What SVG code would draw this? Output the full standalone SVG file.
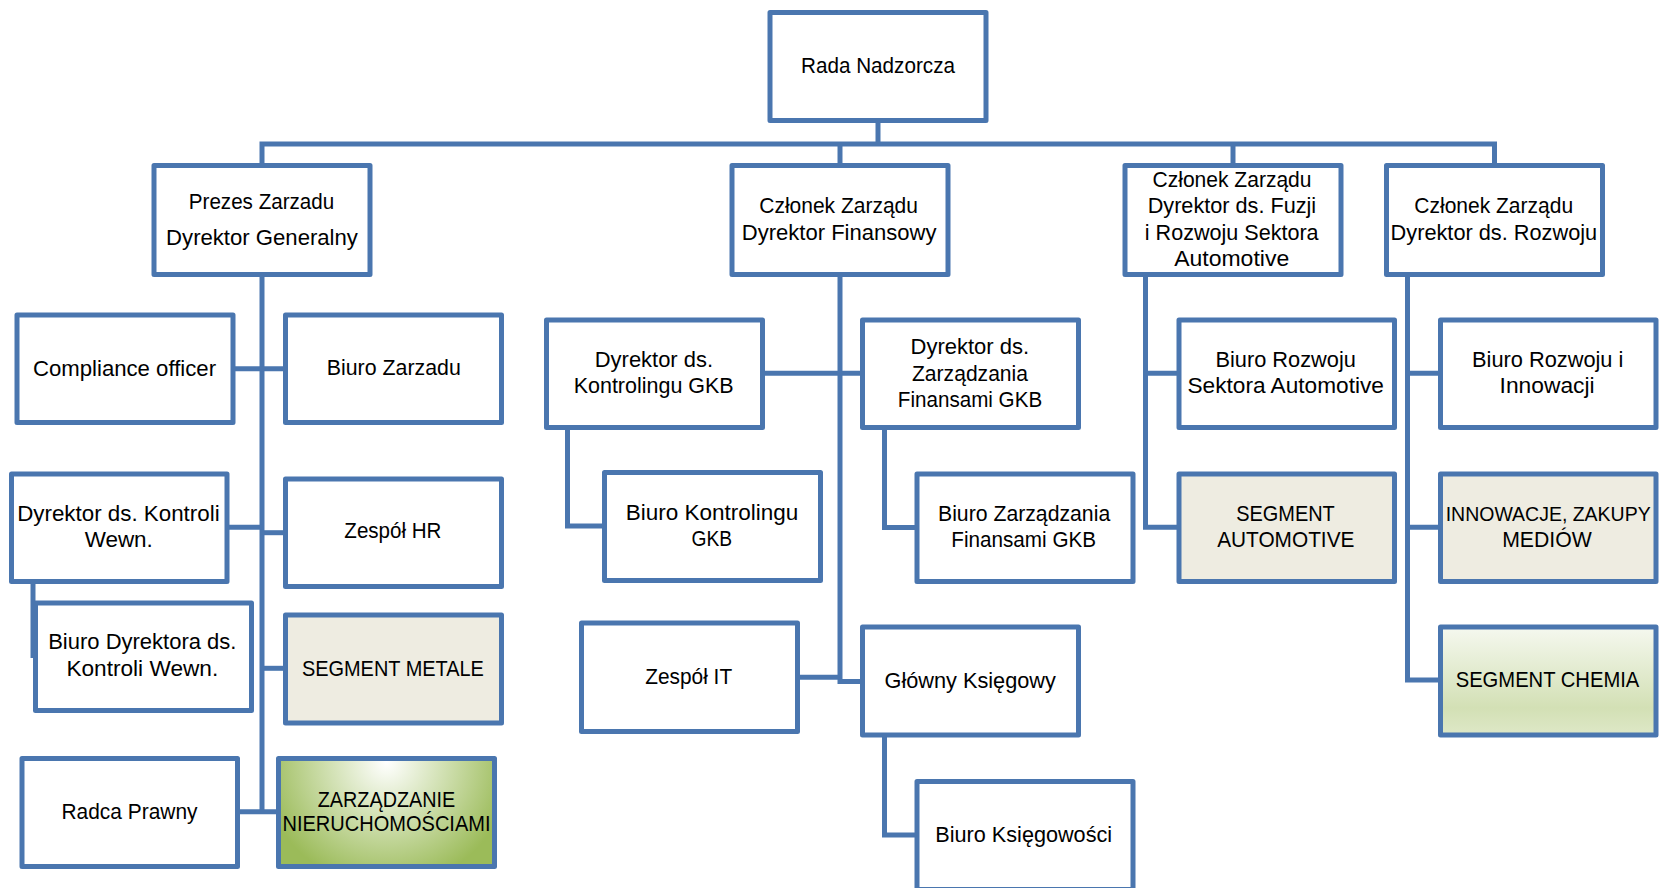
<svg xmlns="http://www.w3.org/2000/svg" width="1662" height="888" viewBox="0 0 1662 888">
<style>
.b{fill:#ffffff;stroke:#4A76AF;stroke-width:5;stroke-linejoin:round}
.beige{fill:#EEECE1}
.c{fill:none;stroke:#4A76AF;stroke-width:5;stroke-linejoin:miter}
.t{font-family:"Liberation Sans",Arial,sans-serif;font-size:22px;fill:#000000}
</style>
<defs>
<radialGradient id="gNier" gradientUnits="userSpaceOnUse" cx="386.5" cy="762" r="125">
<stop offset="0" stop-color="#FFFFFF"/>
<stop offset="0.45" stop-color="#D2E1B4"/>
<stop offset="1" stop-color="#9BBB59"/>
</radialGradient>
<linearGradient id="gChem" x1="0" y1="0" x2="0" y2="1">
<stop offset="0" stop-color="#F5F8EF"/>
<stop offset="0.75" stop-color="#D3E0B5"/>
<stop offset="1" stop-color="#DEE8C7"/>
</linearGradient>
</defs>

<g id="connectors">
<path class="c" d="M878,120.5 V144"/>
<path class="c" d="M262,165.5 V144 H1494.5 V165.5"/>
<path class="c" d="M840,144 V165.5"/>
<path class="c" d="M1233,144 V165.5"/>
<path class="c" d="M262,274.5 V814"/>
<path class="c" d="M233,368.7 H285.5"/>
<path class="c" d="M227,527.3 H262"/>
<path class="c" d="M262,532.7 H285.5"/>
<path class="c" d="M262,668.3 H285.5"/>
<path class="c" d="M237.5,811.7 H278.5"/>
<path class="c" d="M33,581.5 V658"/>
<path class="c" d="M840,274.5 V681.5 H862.5"/>
<path class="c" d="M762.5,373.3 H862.5"/>
<path class="c" d="M797.5,677.3 H840"/>
<path class="c" d="M567.5,427.5 V526 H604.5"/>
<path class="c" d="M884.5,427.5 V527.5 H917"/>
<path class="c" d="M884.5,735 V835 H917"/>
<path class="c" d="M1145.5,274.5 V527.3 H1179"/>
<path class="c" d="M1145.5,373.3 H1179"/>
<path class="c" d="M1407.5,274.5 V680 H1440.5"/>
<path class="c" d="M1407.5,373.3 H1440.5"/>
<path class="c" d="M1407.5,527.3 H1440.5"/>
</g>

<g id="rada">
<rect class="b" x="770" y="12.5" width="216" height="108"/>
<text class="t" x="801" y="73" textLength="154" lengthAdjust="spacingAndGlyphs">Rada Nadzorcza</text>
</g>
<g id="prezes">
<rect class="b" x="154" y="165.5" width="216" height="109"/>
<text class="t" x="188.8" y="208.5" textLength="145.4" lengthAdjust="spacingAndGlyphs">Prezes Zarzadu</text>
<text class="t" x="166.1" y="245" textLength="191.8" lengthAdjust="spacingAndGlyphs">Dyrektor Generalny</text>
</g>
<g id="finansowy">
<rect class="b" x="732" y="165.5" width="216" height="109"/>
<text class="t" x="759.3" y="213.3" textLength="158.6" lengthAdjust="spacingAndGlyphs">Członek Zarządu</text>
<text class="t" x="741.8" y="239.5" textLength="194.6" lengthAdjust="spacingAndGlyphs">Dyrektor Finansowy</text>
</g>
<g id="fuzji">
<rect class="b" x="1125" y="165.5" width="216" height="109"/>
<text class="t" x="1152.5" y="187" textLength="159" lengthAdjust="spacingAndGlyphs">Członek Zarządu</text>
<text class="t" x="1147.7" y="213.3" textLength="168.5" lengthAdjust="spacingAndGlyphs">Dyrektor ds. Fuzji</text>
<text class="t" x="1144.8" y="239.5" textLength="173.8" lengthAdjust="spacingAndGlyphs">i Rozwoju Sektora</text>
<text class="t" x="1174.2" y="266.3" textLength="115" lengthAdjust="spacingAndGlyphs">Automotive</text>
</g>
<g id="rozwoju">
<rect class="b" x="1386.5" y="165.5" width="216" height="109"/>
<text class="t" x="1414.3" y="213.3" textLength="158.8" lengthAdjust="spacingAndGlyphs">Członek Zarządu</text>
<text class="t" x="1390.6" y="239.5" textLength="206.6" lengthAdjust="spacingAndGlyphs">Dyrektor ds. Rozwoju</text>
</g>

<g id="compliance">
<rect class="b" x="17" y="315" width="216" height="107.5"/>
<text class="t" x="32.9" y="376" textLength="183.2" lengthAdjust="spacingAndGlyphs">Compliance officer</text>
</g>
<g id="biuro-zarzadu">
<rect class="b" x="285.5" y="315" width="216" height="107.5"/>
<text class="t" x="326.75" y="375" textLength="134" lengthAdjust="spacingAndGlyphs">Biuro Zarzadu</text>
</g>
<g id="dyr-kontroli">
<rect class="b" x="11.5" y="474" width="215.5" height="107.5"/>
<text class="t" x="17.15" y="520.7" textLength="202.5" lengthAdjust="spacingAndGlyphs">Dyrektor ds. Kontroli</text>
<text class="t" x="84.65" y="546.7" textLength="68.2" lengthAdjust="spacingAndGlyphs">Wewn.</text>
</g>
<g id="zespol-hr">
<rect class="b" x="285.5" y="479" width="216" height="107.5"/>
<text class="t" x="344.35" y="538.3" textLength="97.1" lengthAdjust="spacingAndGlyphs">Zespół HR</text>
</g>
<g id="biuro-dyr-kontroli">
<rect class="b" x="35.5" y="603" width="216" height="107.5"/>
<text class="t" x="48.2" y="649.3" textLength="188.2" lengthAdjust="spacingAndGlyphs">Biuro Dyrektora ds.</text>
<text class="t" x="66.4" y="675.7" textLength="151.8" lengthAdjust="spacingAndGlyphs">Kontroli Wewn.</text>
</g>
<g id="segment-metale">
<rect class="b beige" x="285.5" y="615" width="216" height="108"/>
<text class="t" x="301.9" y="676" textLength="182" lengthAdjust="spacingAndGlyphs">SEGMENT METALE</text>
</g>
<g id="radca">
<rect class="b" x="22" y="758.5" width="215.5" height="108"/>
<text class="t" x="61.5" y="819" textLength="136" lengthAdjust="spacingAndGlyphs">Radca Prawny</text>
</g>
<g id="nieruchomosci">
<rect class="b" style="fill:url(#gNier)" x="278.5" y="758.5" width="216" height="108"/>
<text class="t" x="317.75" y="806.5" textLength="137.5" lengthAdjust="spacingAndGlyphs">ZARZĄDZANIE</text>
<text class="t" x="282.5" y="831" textLength="208" lengthAdjust="spacingAndGlyphs">NIERUCHOMOŚCIAMI</text>
</g>

<g id="dyr-kontrolingu">
<rect class="b" x="546.5" y="320" width="216" height="107.5"/>
<text class="t" x="594.75" y="367.3" textLength="118.3" lengthAdjust="spacingAndGlyphs">Dyrektor ds.</text>
<text class="t" x="573.7" y="392.7" textLength="160" lengthAdjust="spacingAndGlyphs">Kontrolingu GKB</text>
</g>
<g id="dyr-zarz-fin">
<rect class="b" x="862.5" y="320" width="216" height="107.5"/>
<text class="t" x="910.5" y="354" textLength="118.6" lengthAdjust="spacingAndGlyphs">Dyrektor ds.</text>
<text class="t" x="912" y="380.7" textLength="116" lengthAdjust="spacingAndGlyphs">Zarządzania</text>
<text class="t" x="897.85" y="407.3" textLength="144.3" lengthAdjust="spacingAndGlyphs">Finansami GKB</text>
</g>
<g id="biuro-kontrolingu">
<rect class="b" x="604.5" y="472.5" width="216" height="108"/>
<text class="t" x="625.7" y="520" textLength="172.6" lengthAdjust="spacingAndGlyphs">Biuro Kontrolingu</text>
<text class="t" x="691.5" y="545.7" textLength="40.6" lengthAdjust="spacingAndGlyphs">GKB</text>
</g>
<g id="biuro-zarz-fin">
<rect class="b" x="917" y="474" width="216" height="107.5"/>
<text class="t" x="938" y="520.7" textLength="172.2" lengthAdjust="spacingAndGlyphs">Biuro Zarządzania</text>
<text class="t" x="951.35" y="546.7" textLength="144.7" lengthAdjust="spacingAndGlyphs">Finansami GKB</text>
</g>
<g id="zespol-it">
<rect class="b" x="581.5" y="623" width="216" height="108.5"/>
<text class="t" x="645.25" y="684" textLength="86.9" lengthAdjust="spacingAndGlyphs">Zespół IT</text>
</g>
<g id="glowny">
<rect class="b" x="862.5" y="627" width="216" height="108"/>
<text class="t" x="884.5" y="688.3" textLength="171.4" lengthAdjust="spacingAndGlyphs">Główny Księgowy</text>
</g>
<g id="biuro-ksiegowosci">
<rect class="b" x="917" y="781.5" width="216" height="108"/>
<text class="t" x="935.3" y="842.3" textLength="176.8" lengthAdjust="spacingAndGlyphs">Biuro Księgowości</text>
</g>

<g id="biuro-rozwoju-sektora">
<rect class="b" x="1179" y="320" width="215.5" height="107.5"/>
<text class="t" x="1215.45" y="367.3" textLength="140.5" lengthAdjust="spacingAndGlyphs">Biuro Rozwoju</text>
<text class="t" x="1187.5" y="392.7" textLength="196.4" lengthAdjust="spacingAndGlyphs">Sektora Automotive</text>
</g>
<g id="segment-automotive">
<rect class="b beige" x="1179" y="474" width="215.5" height="107.5"/>
<text class="t" x="1236.2" y="520.7" textLength="98.6" lengthAdjust="spacingAndGlyphs">SEGMENT</text>
<text class="t" x="1217.15" y="546.7" textLength="137.3" lengthAdjust="spacingAndGlyphs">AUTOMOTIVE</text>
</g>
<g id="biuro-rozwoju-innowacji">
<rect class="b" x="1440.5" y="320" width="215.5" height="107.5"/>
<text class="t" x="1472.05" y="367.3" textLength="151.3" lengthAdjust="spacingAndGlyphs">Biuro Rozwoju i</text>
<text class="t" x="1499.6" y="392.7" textLength="95" lengthAdjust="spacingAndGlyphs">Innowacji</text>
</g>
<g id="innowacje">
<rect class="b beige" x="1440.5" y="474" width="215.5" height="107.5"/>
<text class="t" style="font-size:19.5px" x="1445.7" y="520.7" textLength="205" lengthAdjust="spacingAndGlyphs">INNOWACJE, ZAKUPY</text>
<text class="t" x="1502.2" y="546.7" textLength="89.6" lengthAdjust="spacingAndGlyphs">MEDIÓW</text>
</g>
<g id="segment-chemia">
<rect class="b" style="fill:url(#gChem)" x="1440.5" y="627" width="215.5" height="108"/>
<text class="t" x="1455.7" y="687" textLength="183.6" lengthAdjust="spacingAndGlyphs">SEGMENT CHEMIA</text>
</g>
</svg>
